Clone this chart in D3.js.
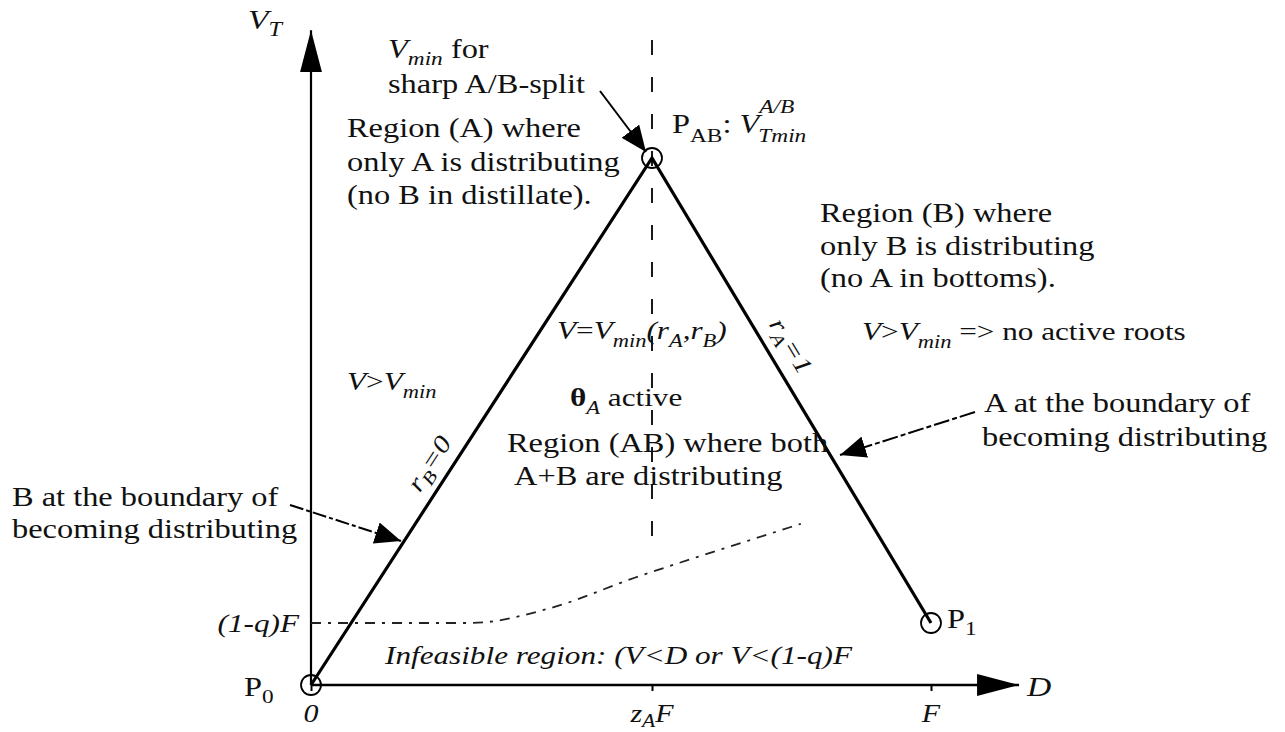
<!DOCTYPE html>
<html>
<head>
<meta charset="utf-8">
<script src="https://cdn.jsdelivr.net/npm/d3@7"></script>
<style>
  body { margin: 0; background: #fff; }
  text { font-family: "Liberation Serif", "Times New Roman", serif; fill: #111; }
</style>
</head>
<body>
<svg id="chart" width="1285" height="732"></svg>
<script>
// Characteristic points of the A/B split (D/F on the x axis, V_T/F on the y axis)
const pointNames = ["P0", "PAB", "P1"];
const pointD = [0, 0.55, 1];
const pointV = [0, 0.85, 0.1];

// Feasibility limit (V < D or V < (1-q)F), sketched as a soft curve
const limitD = [0, 0.257, 0.386, 0.522, 0.628, 0.709, 0.79];
const limitV = [0.1, 0.1, 0.124, 0.173, 0.208, 0.234, 0.26];

// Axis ticks
const xTicks = [0, 0.55, 1];
const xTickLabels = [[["0", "i"]], [["z", "i"], ["A", "ib"], ["F", "i"]], [["F", "i"]]];
const yTicks = [0.1];
const yTickLabels = [[["(1-q)F", "i"]]];

const svg = d3.select("#chart");
const x = d3.scaleLinear().domain([0, 1]).range([311, 931]);
const y = d3.scaleLinear().domain([0, 1]).range([685, 65]);
const SX = 1.2; // horizontal stretch of the lettering

// Arrowhead markers
const defs = svg.append("defs");
function marker(id, len, half) {
  defs.append("marker").attr("id", id)
    .attr("markerUnits", "userSpaceOnUse")
    .attr("viewBox", `0 ${-half} ${len} ${2 * half}`)
    .attr("refX", len).attr("refY", 0)
    .attr("markerWidth", len).attr("markerHeight", 2 * half)
    .attr("orient", "auto")
    .append("path").attr("d", `M0,${-half}L${len},0L0,${half}Z`).attr("fill", "#000");
}
marker("axisHead", 42, 11);
marker("noteHead", 26, 11);

// Rich text: parts = [text, flags, dx]; flags i=italic, b=subscript, p=superscript, B=bold
function rich(sel, parts, sub = 8, sup = -12) {
  let shift = 0;
  parts.forEach(([t, f = "", dx = 0]) => {
    const target = f.includes("b") ? sub : f.includes("p") ? sup : 0;
    const ts = sel.append("tspan").text(t).attr("dy", target - shift);
    if (dx) ts.attr("dx", dx);
    shift = target;
    if (f.includes("i")) ts.attr("font-style", "italic");
    if (f.includes("B")) ts.attr("font-weight", "bold");
    if (f.includes("b") || f.includes("p")) ts.attr("font-size", "0.72em");
  });
}
function label(px, py, parts, opt = {}) {
  const t = svg.append("text")
    .attr("transform", `translate(${px},${py}) rotate(${opt.rot || 0}) scale(${SX},1)`)
    .attr("font-size", opt.size || 27)
    .attr("text-anchor", opt.anchor || "start");
  rich(t, parts, opt.sub, opt.sup);
  return t;
}

// Axes
const xAxis = d3.axisBottom(x).tickValues(xTicks).tickSize(6).tickFormat("");
svg.append("g").attr("transform", `translate(0,${y(0)})`).call(xAxis)
  .call(g => g.select(".domain").remove())
  .call(g => g.selectAll("line").attr("stroke", "#000").attr("stroke-width", 2));
const yAxis = d3.axisLeft(y).tickValues(yTicks).tickSize(0).tickFormat("");
svg.append("g").attr("transform", `translate(${x(0)},0)`).call(yAxis)
  .call(g => g.select(".domain").remove());

svg.append("line").attr("x1", x(0)).attr("y1", y(0)).attr("x2", x(1.142)).attr("y2", y(0))
  .attr("stroke", "#000").attr("stroke-width", 2.5).attr("marker-end", "url(#axisHead)");
svg.append("line").attr("x1", x(0)).attr("y1", y(0)).attr("x2", x(0)).attr("y2", y(1.056))
  .attr("stroke", "#000").attr("stroke-width", 2.2).attr("marker-end", "url(#axisHead)");

xTicks.forEach((v, i) => label(x(v), 722, xTickLabels[i], { anchor: "middle", size: 25, sub: 5 }));
yTicks.forEach((v, i) => label(x(0) - 12, y(v) + 9, yTickLabels[i], { anchor: "end", size: 26 }));
label(x(1.142) + 8, y(0) + 11, [["D", "i"]], { size: 28 });
label(248, 29, [["V", "i"], ["T", "ib"]], { size: 28, sub: 7 });

// Split line D = z_A F
svg.append("line").attr("x1", x(0.55)).attr("y1", 40).attr("x2", x(0.55)).attr("y2", 556)
  .attr("stroke", "#000").attr("stroke-width", 1.8).attr("stroke-dasharray", "15,22");

// Feasibility limit
svg.append("path")
  .datum(limitD.map((d, i) => [d, limitV[i]]))
  .attr("d", d3.line().x(d => x(d[0])).y(d => y(d[1])).curve(d3.curveMonotoneX))
  .attr("fill", "none").attr("stroke", "#222").attr("stroke-width", 1.8)
  .attr("stroke-dasharray", "10,7,3,7");

// Boundaries r_B = 0 (P0 -> PAB) and r_A = 1 (PAB -> P1)
svg.append("path")
  .datum(pointD.map((d, i) => [d, pointV[i]]))
  .attr("d", d3.line().x(d => x(d[0])).y(d => y(d[1])))
  .attr("fill", "none").attr("stroke", "#000").attr("stroke-width", 3.2);

svg.selectAll("circle.pt").data(pointD).join("circle").attr("class", "pt")
  .attr("cx", d => x(d)).attr("cy", (d, i) => y(pointV[i])).attr("r", 10)
  .attr("fill", "none").attr("stroke", "#000").attr("stroke-width", 1.8);

// Point labels
label(244, 696, [["P"], ["0", "b"]], { size: 27, sub: 7 });
label(947, 628, [["P"], ["1", "b"]], { size: 27, sub: 7 });
label(672, 133, [["P"], ["AB", "b"], [": "], ["V", "i"], ["A/B", "ip"], ["Tmin", "ib", -30]],
  { size: 27, sub: 9, sup: -20 });

// Annotation arrows
function note(x1, y1, x2, y2, dash) {
  svg.append("line").attr("x1", x1).attr("y1", y1).attr("x2", x2).attr("y2", y2)
    .attr("stroke", "#000").attr("stroke-width", 2)
    .attr("stroke-dasharray", dash || null)
    .attr("marker-end", "url(#noteHead)");
}
note(600, 91, 646, 152);
note(290, 505, 401, 541, "14,3,4,3");
note(975, 412, 840, 455, "16,3,5,3");

// Region texts
label(388, 58, [["V", "i"], ["min", "ib"], [" for"]], { sub: 7 });
label(388, 93, [["sharp A/B-split"]]);

label(347, 137, [["Region (A) where"]]);
label(347, 171, [["only A is distributing"]]);
label(347, 204, [["(no B in distillate)."]]);

label(820, 222, [["Region (B) where"]]);
label(820, 255, [["only B is distributing"]]);
label(820, 287, [["(no A in bottoms)."]]);

label(347, 390, [["V", "i"], [">"], ["V", "i"], ["min", "ib"]], { size: 26 });
label(557, 339, [["V", "i"], ["="], ["V", "i"], ["min", "ib"], ["(r", "i"], ["A", "ib"], [",r", "i"], ["B", "ib"], [")", "i"]], { size: 26 });
label(570, 406, [["θ", "B"], ["A", "ib"], [" active"]], { size: 26 });
label(862, 340, [["V", "i"], [">"], ["V", "i"], ["min", "ib"], [" => no active roots"]], { size: 26 });

label(984, 412, [["A at the boundary of"]]);
label(982, 446, [["becoming distributing"]]);

label(507, 452, [["Region (AB) where both"]]);
label(514, 485, [["A+B are distributing"]]);

label(12, 506, [["B at the boundary of"]]);
label(12, 538, [["becoming distributing"]]);

label(385, 664, [["Infeasible region: (V<D or V<(1-q)F", "i"]], { size: 26 });

// Labels along the boundaries
label(436, 468, [["r", "i"], ["B", "ib"], ["=0", "i"]], { anchor: "middle", rot: -57, size: 25, sub: 6 });
label(784, 350, [["r", "i"], ["A", "ib"], ["=1", "i"]], { anchor: "middle", rot: 59, size: 25, sub: 6 });
</script>
</body>
</html>
